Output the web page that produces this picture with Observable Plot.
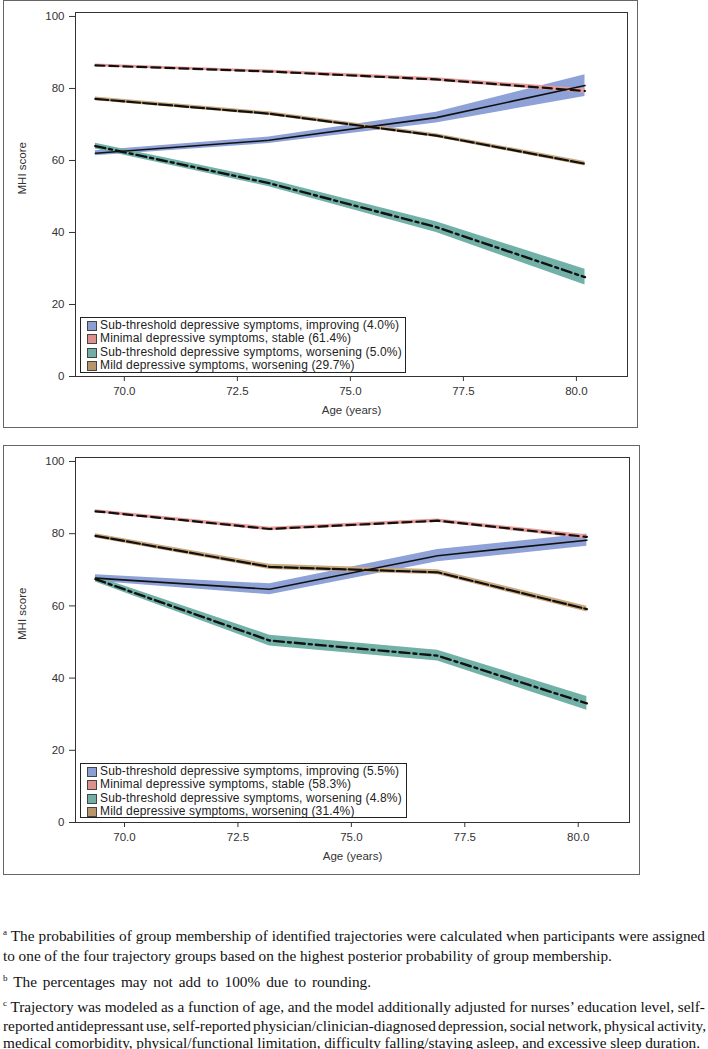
<!DOCTYPE html>
<html>
<head>
<meta charset="utf-8">
<script src="https://cdn.jsdelivr.net/npm/d3@7"></script>
<script src="https://cdn.jsdelivr.net/npm/@observablehq/plot@0.6"></script>
<style>
  html, body { margin: 0; padding: 0; background: #fff; }
  #root { position: relative; width: 708px; height: 1049px; overflow: hidden; font-family: "Liberation Sans", Arial, sans-serif; }
  .outer { position: absolute; border: 1px solid #666; box-sizing: border-box; pointer-events: none; }
  .plotwrap { position: absolute; }
  .legend { position: absolute; border: 1px solid #222; box-sizing: border-box; background: #fff; font-size: 12px; letter-spacing: 0.15px; color: #222; padding-top: 1px; }
  .legend .row { height: 13.3px; line-height: 13.3px; white-space: nowrap; position: relative; padding-left: 19px; }
  .legend .sw { position: absolute; left: 6px; top: 2px; width: 8px; height: 8px; border: 1px solid #444; }
  .note { position: absolute; left: 3px; font-family: "Liberation Serif", "Times New Roman", serif; font-size: 15.3px; color: #111; white-space: nowrap; line-height: 17px; }
  .note sup { font-size: 9px; vertical-align: 6px; line-height: 0; }
</style>
</head>
<body>
<div id="root"></div>
<script>
// ---- data ----
const ages = [69.36, 73.2, 76.9, 80.19];
const groups = [
  "Sub-threshold depressive symptoms, improving",
  "Minimal depressive symptoms, stable",
  "Sub-threshold depressive symptoms, worsening",
  "Mild depressive symptoms, worsening"
];
const pctA = ["4.0%", "61.4%", "5.0%", "29.7%"];
const pctB = ["5.5%", "58.3%", "4.8%", "31.4%"];

// panel A (top)
const aImproving = [62.0, 65.6, 71.9, 80.8];
const aImprovingCI = [0.7, 0.9, 1.5, 3.0];
const aStable = [86.4, 84.7, 82.5, 79.3];
const aStableCI = [0.4, 0.4, 0.5, 0.6];
const aWorsening = [64.0, 53.7, 41.5, 27.6];
const aWorseningCI = [0.8, 1.0, 1.5, 2.2];
const aMild = [77.1, 73.0, 66.9, 59.1];
const aMildCI = [0.5, 0.5, 0.5, 0.6];

// panel B (bottom)
const bImproving = [67.7, 64.6, 73.9, 78.2];
const bImprovingCI = [0.9, 1.5, 1.7, 1.7];
const bStable = [86.2, 81.3, 83.6, 79.1];
const bStableCI = [0.4, 0.5, 0.5, 0.6];
const bWorsening = [67.4, 50.4, 46.2, 33.0];
const bWorseningCI = [0.8, 1.5, 1.5, 1.9];
const bMild = [79.4, 70.8, 69.3, 59.1];
const bMildCI = [0.6, 0.7, 0.7, 0.8];

const yTicks = [0, 20, 40, 60, 80, 100];
const xTicks = [70.0, 72.5, 75.0, 77.5, 80.0];

// ---- styles ----
const bandColors = ["#8EA2D8", "#E79C98", "#72B1A7", "#CCAA80"];
const swatchColors = ["#8C9FD3", "#E0908C", "#6FAFA5", "#B8966C"];
const dashes = [null, "9,5", "10,4,3,4", "13,3"];
const lineWidths = [1.6, 2.2, 2.4, 2.2];

const footnotes = [
  ["a", "The probabilities of group membership of identified trajectories were calculated when participants were assigned"],
  [null, "to one of the four trajectory groups based on the highest posterior probability of group membership."],
  ["b", "The percentages may not add to 100% due to rounding."],
  ["c", "Trajectory was modeled as a function of age, and the model additionally adjusted for nurses\u2019 education level, self-"],
  [null, "reported antidepressant use, self-reported physician/clinician-diagnosed depression, social network, physical activity,"],
  [null, "medical comorbidity, physical/functional limitation, difficulty falling/staying asleep, and excessive sleep duration."]
];
const noteCenters = [935, 955, 981, 1006, 1025, 1042];
const noteRightEdges = [705, 612, 371, 705, 706, 700];

function rows(series, cis) {
  const out = [];
  series.forEach((vals, g) => {
    vals.forEach((v, i) => out.push({group: groups[g], g, age: ages[i], mhi: v, lo: v - cis[g][i], hi: v + cis[g][i]}));
  });
  return out;
}

function makePanel(series, cis, pcts, box) {
  const data = rows(series, cis);
  const marks = [];
  groups.forEach((name, g) => {
    marks.push(Plot.areaY(data.filter(d => d.g === g), {x: "age", y1: "lo", y2: "hi", fill: bandColors[g], fillOpacity: 1}));
  });
  groups.forEach((name, g) => {
    marks.push(Plot.line(data.filter(d => d.g === g), {
      x: "age", y: "mhi", stroke: "#111", strokeWidth: lineWidths[g],
      strokeDasharray: dashes[g] || undefined
    }));
  });
  marks.push(Plot.frame({stroke: "#333", strokeWidth: 1}));
  marks.push(Plot.axisY({ticks: yTicks, tickSize: 6, tickPadding: 5, fontSize: 11.5, label: null, color: "#333"}));
  marks.push(Plot.axisX({ticks: xTicks, tickFormat: d => d.toFixed(1), tickSize: 5, tickPadding: 5, fontSize: 11.5, label: null, color: "#333"}));
  marks.push(Plot.text(["MHI score"], {frameAnchor: "left", rotate: -90, dx: -53, fontSize: 11.5, fill: "#333"}));
  marks.push(Plot.text(["Age (years)"], {frameAnchor: "bottom", dy: 37, fontSize: 11.5, fill: "#333"}));

  const chart = Plot.plot({
    width: box.w, height: box.h,
    marginLeft: 72, marginRight: 11, marginTop: box.mt, marginBottom: box.mb,
    style: {fontFamily: "Liberation Sans, Arial, sans-serif", background: "transparent", overflow: "visible"},
    x: {domain: [68.92, 81.13]},
    y: {domain: [0, 101.1]},
    marks
  });

  const root = document.getElementById("root");
  const wrap = document.createElement("div");
  wrap.className = "plotwrap";
  wrap.style.left = box.x + "px";
  wrap.style.top = box.y + "px";
  wrap.appendChild(chart);
  root.appendChild(wrap);

  const outer = document.createElement("div");
  outer.className = "outer";
  Object.assign(outer.style, {left: box.x + "px", top: box.y + "px", width: box.w + "px", height: box.h + "px"});
  root.appendChild(outer);

  const leg = document.createElement("div");
  leg.className = "legend";
  Object.assign(leg.style, {left: box.legX + "px", top: box.legY + "px", width: box.legW + "px", height: box.legH + "px"});
  groups.forEach((name, g) => {
    const r = document.createElement("div");
    r.className = "row";
    const sw = document.createElement("span");
    sw.className = "sw";
    sw.style.background = swatchColors[g];
    r.appendChild(sw);
    r.appendChild(document.createTextNode(`${name} (${pcts[g]})`));
    leg.appendChild(r);
  });
  root.appendChild(leg);
}

makePanel([aImproving, aStable, aWorsening, aMild], [aImprovingCI, aStableCI, aWorseningCI, aMildCI], pctA,
  {x: 3, y: 0, w: 635, h: 428, mt: 12, mb: 52, legX: 80, legY: 317, legW: 326, legH: 56});
makePanel([bImproving, bStable, bWorsening, bMild], [bImprovingCI, bStableCI, bWorseningCI, bMildCI], pctB,
  {x: 3, y: 445, w: 637, h: 430, mt: 12, mb: 53, legX: 80, legY: 763, legW: 327, legH: 55});

const rootEl = document.getElementById("root");
footnotes.forEach(([sup, txt], i) => {
  const d = document.createElement("div");
  d.className = "note";
  d.style.top = (noteCenters[i] - 8.5) + "px";
  const span = document.createElement("span");
  span.innerHTML = (sup ? `<sup>${sup}</sup> ` : "") + txt;
  d.appendChild(span);
  rootEl.appendChild(d);
  // spread words so each line ends where the reference line ends
  const r = span.getBoundingClientRect();
  const rootLeft = rootEl.getBoundingClientRect().left;
  const right = r.right - rootLeft;
  const spaces = (span.textContent.match(/ /g) || []).length;
  if (spaces > 0) span.style.wordSpacing = ((noteRightEdges[i] - right) / spaces).toFixed(2) + "px";
});
</script>
</body>
</html>
